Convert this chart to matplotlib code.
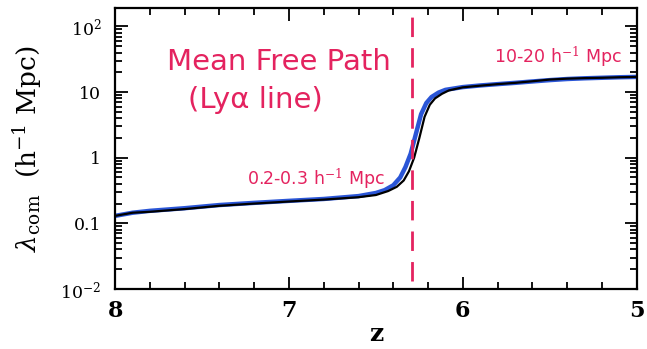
import matplotlib
matplotlib.use("Agg")
import matplotlib.pyplot as plt
from matplotlib.ticker import FixedLocator, LogLocator, NullFormatter, MultipleLocator

# ---- data ----
z_black = [8.0, 7.9, 7.8, 7.6, 7.4, 7.2, 7.0, 6.8, 6.6, 6.5, 6.43, 6.38, 6.34, 6.31,
           6.28, 6.25, 6.22, 6.19, 6.16, 6.12, 6.08, 6.0, 5.9, 5.8, 5.7, 5.6, 5.5,
           5.4, 5.3, 5.2, 5.1, 5.0]
lam_black = [0.13, 0.145, 0.15, 0.165, 0.185, 0.20, 0.215, 0.23, 0.25, 0.27, 0.31,
             0.36, 0.45, 0.62, 1.0, 2.0, 4.2, 6.4, 8.0, 9.4, 10.6, 11.8, 12.5, 13.2,
             13.8, 14.6, 15.5, 16.0, 16.3, 16.5, 16.8, 17.0]
z_blue = [8.0, 7.9, 7.8, 7.6, 7.4, 7.2, 7.0, 6.8, 6.6, 6.5, 6.45, 6.4, 6.36, 6.33,
          6.30, 6.27, 6.24, 6.21, 6.18, 6.14, 6.1, 6.0, 5.9, 5.8, 5.7, 5.6, 5.5,
          5.4, 5.3, 5.2, 5.1, 5.0]
lam_blue = [0.13, 0.145, 0.155, 0.17, 0.19, 0.205, 0.22, 0.235, 0.26, 0.29, 0.32,
            0.38, 0.5, 0.72, 1.15, 2.3, 4.6, 6.8, 8.4, 9.8, 10.8, 11.9, 12.6, 13.2,
            13.8, 14.5, 15.2, 15.8, 16.2, 16.5, 16.8, 17.0]
z_reion = 6.29

xticks = [8, 7, 6, 5]
xticklabels = ["8", "7", "6", "5"]
yticks = [1e-2, 1e-1, 1, 10, 100]
yticklabels = [r"10$^{-2}$", "0.1", "1", "10", r"10$^{2}$"]

pink = "#e4235f"

plt.rcParams["mathtext.fontset"] = "dejavuserif"

fig = plt.figure(figsize=(6.47, 3.49), dpi=100)
ax = fig.add_axes([0.178, 0.172, 0.806, 0.805])

ax.plot(z_blue, lam_blue, color="#2a55d6", lw=3.2, solid_capstyle="round", zorder=2)
ax.plot(z_black, lam_black, color="black", lw=1.6, zorder=3)
ax.plot([z_reion, z_reion], [0.013, 230], color=pink, lw=2.0,
        dashes=(7, 4), zorder=4)

ax.set_yscale("log")
ax.set_xlim(8, 5)
ax.set_ylim(1e-2, 10**2.28)

ax.xaxis.set_major_locator(FixedLocator(xticks))
ax.set_xticklabels(xticklabels)
ax.xaxis.set_minor_locator(MultipleLocator(0.2))
ax.yaxis.set_major_locator(FixedLocator(yticks))
ax.set_yticklabels(yticklabels)
ax.yaxis.set_minor_locator(LogLocator(base=10, subs=range(2, 10)))
ax.yaxis.set_minor_formatter(NullFormatter())

ax.tick_params(which="both", direction="in", top=True, right=True, width=1.3)
ax.tick_params(which="major", length=9)
ax.tick_params(which="minor", length=5)
ax.tick_params(axis="x", which="major", labelsize=16, pad=8)
ax.tick_params(axis="y", which="major", labelsize=12.5, pad=10)
for lab in ax.get_xticklabels():
    lab.set_fontfamily("DejaVu Serif")
    lab.set_fontweight("bold")
for lab in ax.get_yticklabels():
    lab.set_fontfamily("DejaVu Serif")

for s in ax.spines.values():
    s.set_linewidth(1.6)

ax.set_xlabel("z", fontsize=18, family="DejaVu Serif", fontweight="bold", labelpad=0)
ax.set_ylabel(r"$\lambda_{\rm com}$  (h$^{-1}$ Mpc)", fontsize=19,
              family="DejaVu Serif", labelpad=12)

ax.text(7.70, 29, "Mean Free Path", color=pink, fontsize=21, ha="left", va="center")
ax.text(7.58, 7.6, "(Ly\u03b1 line)", color=pink, fontsize=21, ha="left", va="center")
ax.text(7.24, 0.46, "0.2-0.3 h$^{-1}$ Mpc", color=pink, fontsize=12.5, ha="left", va="center")
ax.text(5.82, 34, "10-20 h$^{-1}$ Mpc", color=pink, fontsize=12.5, ha="left", va="center")

fig.savefig("out.png", dpi=100)
